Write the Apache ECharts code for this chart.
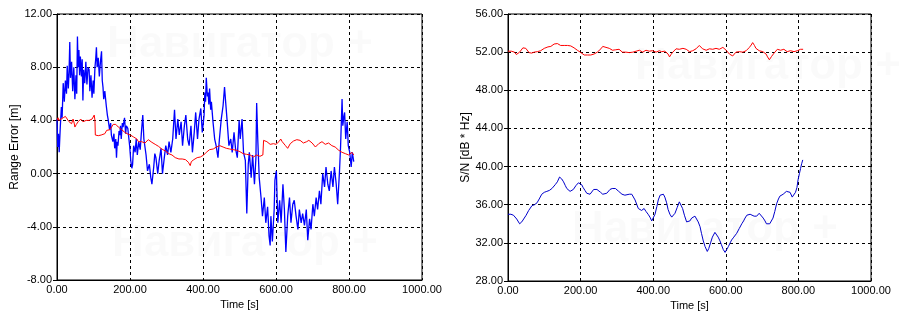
<!DOCTYPE html>
<html><head><meta charset="utf-8">
<script src="https://cdn.jsdelivr.net/npm/echarts@6/dist/echarts.min.js"></script>
<style>html,body{margin:0;padding:0;background:#fff}#c{width:920px;height:324px}</style>
</head><body><div id="c"></div>
<script>
const timeTicks = [0, 200, 400, 600, 800, 1000];
const rangeTicks = [-8, -4, 0, 4, 8, 12];
const snTicks = [28, 32, 36, 40, 44, 48, 52, 56];
const xName = 'Time [s]';
const leftYName = 'Range Error [m]';
const rightYName = 'S/N [dB * Hz]';
const watermark = 'Навигатор +';

// Left chart, blue: range error [t, m]
const rangeErrorBlue = [[0,4.1],[2,2.0],[4,3.0],[6,1.6],[9,3.5],[12,5.0],[14,4.2],[17,6.8],[20,5.4],[23,7.0],[26,6.0],[28,8.1],[31,6.4],[33,7.6],[35,9.9],[37,7.2],[40,8.4],[43,6.2],[46,8.0],[49,5.6],[52,7.4],[54,6.0],[56,10.3],[58,8.0],[60,9.3],[62,7.4],[64,8.8],[67,7.3],[69,8.6],[71,5.5],[73,7.8],[76,6.8],[79,8.4],[82,6.7],[85,8.0],[88,7.8],[90,6.2],[93,7.4],[96,5.7],[99,7.0],[101,6.0],[104,8.0],[106,8.6],[108,9.5],[110,8.0],[113,8.7],[116,7.3],[119,8.4],[122,9.2],[124,7.0],[126,6.5],[128,5.6],[131,6.2],[135,5.1],[138,4.4],[140,4.1],[144,3.3],[147,3.8],[149,2.9],[153,2.4],[156,3.0],[158,1.9],[161,2.6],[163,1.2],[165,2.4],[167,2.1],[170,3.2],[172,2.9],[174,3.6],[176,2.6],[179,3.8],[181,3.5],[185,4.2],[188,3.0],[190,3.6],[194,3.4],[197,2.6],[199,2.1],[202,1.0],[205,0.4],[207,0.65],[210,2.1],[214,1.6],[217,2.6],[220,1.4],[224,2.4],[228,1.8],[231,3.0],[235,4.4],[238,2.6],[241,2.0],[244,1.4],[248,0.2],[253,0.7],[257,-0.3],[260,-0.8],[265,0.5],[268,1.5],[271,1.2],[276,0],[280,1.0],[285,1.9],[289,0],[294,1.2],[298,2.1],[303,1.4],[307,2.4],[312,1.6],[317,2.6],[322,4.8],[326,2.6],[331,4.1],[335,2.9],[340,3.9],[344,2.1],[349,3.6],[353,4.4],[358,2.6],[362,2.1],[367,3.6],[371,1.6],[376,3.1],[380,4.6],[385,2.6],[389,4.1],[394,4.9],[398,3.1],[403,4.4],[405,6.1],[407,5.4],[409,7.2],[412,5.8],[414,6.1],[416,5.2],[418,6.4],[421,4.8],[423,5.4],[427,4.0],[432,2.6],[436,2.1],[441,1.2],[445,2.6],[450,4.1],[455,5.1],[459,6.5],[462,5.4],[466,4.0],[471,2.1],[476,2.6],[480,1.6],[485,3.1],[489,1.9],[494,1.2],[499,4.0],[502,2.6],[507,4.1],[511,1.6],[516,1.0],[520,-3.0],[524,0.7],[527,1.6],[532,-0.3],[536,1.4],[541,-0.8],[545,1.2],[547,5.3],[550,2.6],[554,-0.3],[559,-1.8],[563,-3.2],[568,-1.8],[572,-3.7],[577,-2.5],[581,-4.7],[584,-5.4],[586,-3.2],[590,-5.1],[595,-2.7],[597,-0.5],[601,0.2],[605,-3.7],[610,-2.0],[614,-3.7],[619,-0.8],[623,-2.7],[627,-5.9],[632,-3.2],[637,-1.8],[641,-3.7],[646,-2.3],[650,-2.0],[655,-3.2],[660,-4.2],[664,-2.7],[669,-3.7],[673,-3.0],[678,-3.9],[683,-2.7],[687,-5.0],[692,-3.4],[696,-4.2],[701,-2.3],[705,-3.2],[710,-1.8],[714,-2.7],[719,-1.3],[723,-2.3],[728,0.0],[733,-1.0],[737,0.5],[742,-0.8],[746,-1.3],[751,0.2],[756,-1.0],[760,0.5],[765,-0.8],[769,-2.3],[774,0.2],[777,2.1],[781,5.6],[783,3.6],[786,4.3],[788,4.6],[791,2.6],[795,3.9],[798,2.1],[802,1.6],[806,0.5],[809,1.6],[813,0.9]];

// Left chart, red: range error [t, m]
const rangeErrorRed = [[0,4.0],[3,4.2],[5,4.0],[8,3.9],[11,4.1],[14,4.0],[17,4.2],[20,4.1],[23,4.3],[25,4.25],[28,4.1],[30,4.0],[33,3.9],[36,4.0],[40,3.75],[44,4.1],[47,3.8],[49,3.5],[53,3.7],[58,3.9],[62,3.8],[65,4.1],[68,4.0],[71,3.9],[75,4.0],[80,4.0],[84,3.85],[88,4.0],[90,3.9],[93,4.05],[96,4.1],[99,4.2],[102,4.4],[104,4.0],[105,2.9],[109,2.8],[113,2.85],[117,2.75],[121,2.9],[126,2.85],[131,3.0],[134,3.1],[136,3.25],[140,3.2],[145,3.3],[150,3.4],[154,3.7],[158,3.6],[161,3.7],[164,3.6],[168,3.5],[173,3.4],[177,3.3],[182,3.25],[186,3.1],[192,3.0],[196,2.95],[201,2.9],[205,2.8],[210,2.75],[214,2.7],[219,2.6],[223,2.4],[228,2.25],[232,2.4],[237,2.5],[241,2.3],[246,2.4],[250,2.55],[255,2.5],[260,2.35],[264,2.3],[269,2.2],[274,2.1],[278,2.05],[283,2.0],[287,1.85],[292,1.75],[297,1.7],[301,1.6],[306,1.5],[310,1.45],[315,1.4],[319,1.3],[324,1.2],[329,1.15],[334,1.1],[338,1.05],[343,1.1],[347,1.0],[352,1.05],[356,1.0],[360,0.85],[365,0.6],[368,0.9],[370,1.0],[375,1.05],[379,1.1],[384,1.2],[388,1.15],[393,1.25],[397,1.3],[402,1.4],[405,1.45],[409,1.6],[414,1.7],[418,1.8],[423,1.9],[428,1.85],[432,1.95],[437,2.0],[441,2.05],[446,2.1],[450,2.05],[455,2.0],[459,1.95],[464,1.9],[469,1.95],[473,1.85],[478,1.9],[483,1.8],[487,1.85],[492,1.75],[496,1.7],[501,1.65],[505,1.6],[510,1.5],[515,1.4],[519,1.45],[524,1.5],[529,1.4],[533,1.35],[538,1.25],[543,1.35],[547,1.4],[552,1.4],[556,1.3],[561,1.25],[564,1.4],[566,2.5],[570,2.45],[575,2.4],[579,2.3],[584,2.2],[588,2.3],[593,2.25],[597,2.35],[600,2.2],[604,2.2],[608,2.4],[613,2.6],[617,2.4],[621,2.25],[626,2.1],[632,1.9],[635,2.05],[639,2.25],[644,2.35],[648,2.45],[653,2.5],[657,2.55],[662,2.6],[666,2.5],[671,2.4],[675,2.3],[680,2.25],[684,2.4],[690,2.5],[694,2.4],[699,2.3],[703,2.15],[708,2.0],[712,2.1],[717,2.25],[721,2.35],[726,2.4],[730,2.3],[735,2.2],[739,2.25],[744,2.3],[748,2.2],[753,2.1],[757,2.05],[762,2.0],[767,1.9],[772,1.75],[776,1.7],[781,1.6],[785,1.55],[790,1.5],[794,1.45],[799,1.4],[803,1.5],[808,1.6],[811,1.45],[813,1.4]];

// Right chart, red: S/N [t, dB*Hz]
const snRed = [[0,52.1],[5,52.0],[9,52.1],[14,51.9],[18,52.0],[23,51.75],[27,51.9],[32,52.0],[36,52.2],[41,52.45],[45,52.6],[49,52.4],[53,52.2],[58,51.95],[62,51.75],[65,51.9],[68,52.1],[72,52.0],[77,51.9],[81,52.05],[86,52.2],[90,52.15],[95,52.3],[100,52.4],[105,52.6],[110,52.55],[114,52.5],[118,52.6],[123,52.7],[127,52.85],[132,53.0],[136,52.9],[141,52.8],[145,52.7],[150,52.6],[155,52.7],[160,52.8],[164,52.7],[169,52.6],[173,52.65],[178,52.55],[182,52.45],[187,52.3],[191,52.2],[196,52.1],[201,51.95],[206,51.85],[210,51.7],[215,51.6],[219,51.7],[224,51.75],[228,51.7],[233,51.65],[237,51.8],[242,51.9],[246,52.0],[251,52.1],[256,52.35],[261,52.6],[265,52.8],[270,52.5],[274,52.3],[279,52.4],[283,52.35],[288,52.2],[293,52.1],[297,52.25],[302,52.45],[306,52.3],[311,52.1],[315,52.0],[320,51.9],[325,52.0],[330,52.0],[334,51.95],[339,52.05],[344,52.0],[348,52.05],[353,52.1],[357,52.15],[362,52.2],[366,52.1],[371,52.0],[375,52.1],[380,52.2],[384,52.15],[389,52.1],[393,52.05],[398,52.15],[403,52.05],[408,52.0],[412,52.1],[417,52.15],[423,52.05],[428,52.1],[432,52.1],[437,51.95],[441,51.8],[445,51.5],[449,51.75],[454,52.0],[458,52.2],[463,52.35],[467,52.3],[472,52.3],[477,52.35],[482,52.4],[486,52.35],[491,52.3],[495,52.15],[500,52.05],[504,52.1],[509,52.15],[513,52.25],[518,52.35],[522,52.5],[527,52.7],[531,52.5],[536,52.35],[541,52.3],[546,52.2],[550,52.3],[555,52.35],[559,52.3],[564,52.3],[568,52.35],[573,52.4],[577,52.35],[582,52.3],[587,52.4],[592,52.5],[596,52.35],[601,52.2],[605,52.0],[610,51.8],[614,51.7],[619,51.6],[623,51.8],[628,52.0],[632,52.05],[637,52.05],[642,52.0],[647,52.0],[651,52.1],[656,52.15],[661,52.3],[665,52.5],[670,52.75],[674,53.0],[679,52.7],[683,52.4],[688,52.3],[692,52.15],[697,52.1],[702,52.05],[706,51.9],[711,51.8],[715,51.5],[720,51.2],[723,51.35],[726,51.55],[730,51.75],[733,51.9],[738,52.1],[742,52.3],[747,52.25],[751,52.2],[756,52.25],[760,52.3],[765,52.15],[769,52.05],[774,52.1],[778,52.15],[783,52.1],[788,52.05],[792,52.1],[797,52.15],[801,52.2],[806,52.3],[810,52.3],[813,52.3]];

// Right chart, blue: S/N [t, dB*Hz]
const snBlue = [[0,35.0],[8,35.0],[15,34.9],[24,34.5],[32,34.0],[38,34.2],[43,34.4],[50,34.9],[57,35.4],[66,35.9],[73,36.0],[80,36.2],[86,36.6],[93,37.1],[100,37.3],[107,37.4],[114,37.5],[121,37.7],[126,37.9],[130,38.1],[136,38.4],[142,38.9],[148,38.7],[153,38.4],[158,38.0],[162,37.7],[167,37.5],[171,37.4],[175,37.5],[180,37.6],[187,38.0],[194,38.3],[198,38.4],[203,38.1],[207,37.8],[212,37.5],[217,37.2],[222,37.0],[226,37.1],[231,37.3],[236,37.6],[240,37.7],[245,37.6],[249,37.5],[255,37.3],[261,37.1],[266,37.1],[272,37.2],[277,37.4],[281,37.6],[287,37.7],[292,37.8],[296,37.7],[300,37.5],[305,37.4],[309,37.3],[314,37.1],[318,36.9],[322,37.0],[327,37.1],[334,37.1],[341,37.1],[346,36.9],[350,36.5],[355,36.0],[359,35.6],[364,35.4],[368,35.4],[372,35.6],[375,35.6],[380,35.3],[386,35.0],[391,34.7],[396,34.3],[400,34.5],[405,35.0],[410,35.8],[414,36.5],[419,37.0],[423,37.2],[428,37.1],[432,36.8],[437,36.2],[441,35.5],[446,35.0],[451,34.7],[455,34.8],[460,35.1],[466,35.7],[472,36.3],[476,36.1],[481,35.6],[486,34.9],[492,34.2],[497,34.2],[501,34.3],[506,34.6],[510,34.8],[515,34.8],[519,34.7],[524,34.2],[529,33.7],[533,33.0],[538,32.2],[543,31.6],[549,31.1],[553,31.4],[558,32.0],[563,32.6],[570,33.1],[575,32.9],[579,32.6],[584,32.2],[588,31.8],[593,31.3],[598,31.0],[602,31.2],[607,31.6],[612,32.0],[616,32.3],[622,32.6],[630,33.0],[637,33.5],[644,34.0],[649,34.3],[653,34.6],[658,34.9],[662,35.1],[667,35.0],[671,34.8],[678,34.8],[685,34.8],[692,35.1],[697,34.9],[703,34.6],[708,34.3],[712,34.0],[717,34.0],[721,34.0],[726,34.2],[730,34.6],[735,35.3],[740,36.1],[745,36.6],[749,36.9],[754,37.0],[758,37.1],[763,37.3],[767,37.4],[772,37.5],[777,37.3],[783,36.8],[787,37.0],[792,37.3],[796,37.8],[799,38.6],[803,39.3],[806,39.8],[809,40.3],[812,40.7]];

const FONT = '"Liberation Sans", Arial, sans-serif';
const fmt = v => v.toFixed(2);

function xAxisCfg(gi) {
  return {
    type: 'value', gridIndex: gi,
    min: timeTicks[0], max: timeTicks[timeTicks.length - 1],
    interval: timeTicks[1] - timeTicks[0],
    name: xName, nameLocation: 'middle', nameGap: 17,
    nameTextStyle: { fontFamily: FONT, fontSize: 11, color: '#000' },
    axisLine: { show: true, onZero: false, lineStyle: { color: '#000', width: 1 } },
    axisTick: { show: false },
    axisLabel: { formatter: fmt, fontFamily: FONT, fontSize: 11, color: '#000', margin: 4, hideOverlap: false },
    splitLine: { show: true, lineStyle: { color: '#000', type: [3, 3], width: 1 } }
  };
}
function yAxisCfg(gi, ticks, name) {
  return {
    type: 'value', gridIndex: gi,
    min: ticks[0], max: ticks[ticks.length - 1],
    interval: ticks[1] - ticks[0],
    name: name, nameLocation: 'middle', nameGap: 35, nameRotate: 90,
    nameTextStyle: { fontFamily: FONT, fontSize: 12, color: '#000' },
    axisLine: { show: true, onZero: false, lineStyle: { color: '#000', width: 1 } },
    axisTick: { show: true, length: 4, lineStyle: { color: '#000' } },
    axisLabel: { formatter: fmt, fontFamily: FONT, fontSize: 11, color: '#000', margin: 5 },
    splitLine: { show: true, lineStyle: { color: '#000', type: [3, 3], width: 1 } }
  };
}
function lineSeries(data, color, xi, w) {
  return {
    type: 'line', data: data, xAxisIndex: xi, yAxisIndex: xi,
    showSymbol: false, symbol: 'none', smooth: false,
    lineStyle: { color: color, width: w }, itemStyle: { color: color },
    emphasis: { disabled: true }, silent: true, z: 3
  };
}
function wm(x, y) {
  return {
    type: 'text', x: x, y: y, z: -1, silent: true,
    style: { text: watermark, fill: 'rgba(0,0,0,0.018)', font: 'bold 44px "Liberation Sans", Arial, sans-serif', align: 'center', verticalAlign: 'middle' }
  };
}

const chart = echarts.init(document.getElementById('c'), null, { renderer: 'canvas' });
chart.setOption({
  animation: false,
  backgroundColor: '#fff',
  graphic: { elements: [wm(240, 45), wm(245, 244), wm(768, 67), wm(705, 230)] },
  grid: [
    { left: 57, right: 498, top: 14, bottom: 44, show: true, borderColor: '#000', borderWidth: 1, backgroundColor: 'transparent' },
    { left: 508, right: 49, top: 14, bottom: 43, show: true, borderColor: '#000', borderWidth: 1, backgroundColor: 'transparent' }
  ],
  xAxis: [xAxisCfg(0), xAxisCfg(1)],
  yAxis: [yAxisCfg(0, rangeTicks, leftYName), yAxisCfg(1, snTicks, rightYName)],
  series: [
    lineSeries(rangeErrorBlue, '#0000ff', 0, 1.3),
    lineSeries(rangeErrorRed, '#ff0000', 0, 1),
    lineSeries(snRed, '#ff0000', 1, 1),
    lineSeries(snBlue, '#0000cc', 1, 1)
  ]
});
</script>
</body></html>
